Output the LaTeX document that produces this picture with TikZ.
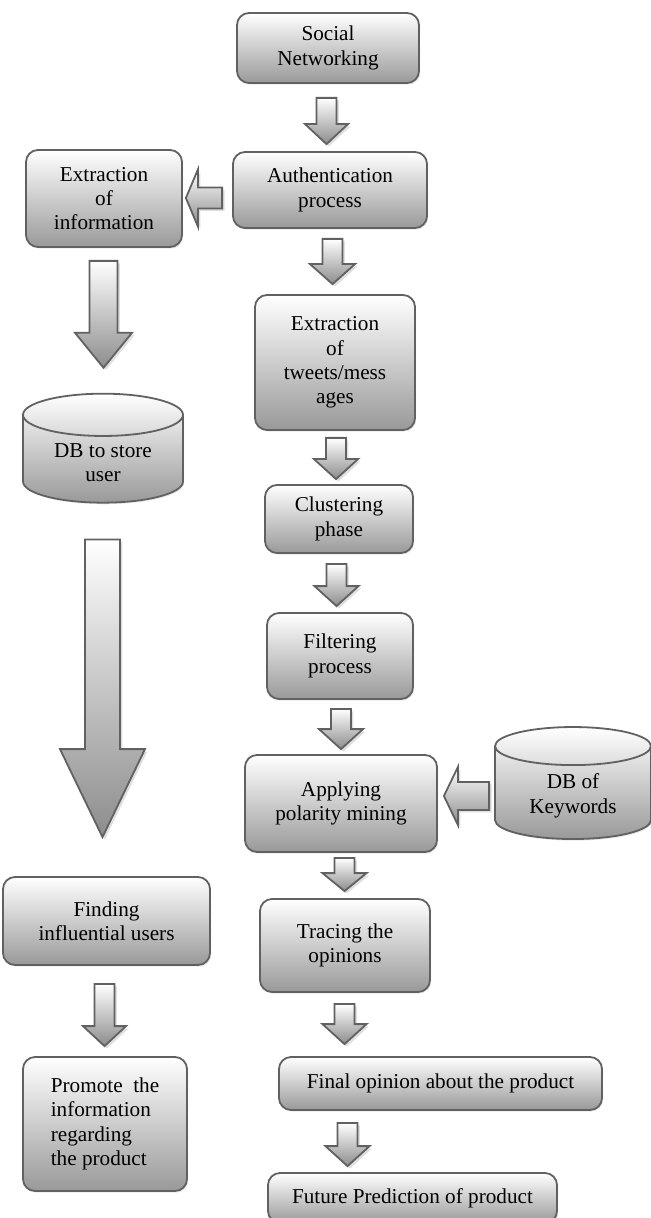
\documentclass[tikz,border=0pt]{standalone}
\usepackage{fontspec}
\setmainfont{Liberation Serif}
\usetikzlibrary{calc,
shapes.geometric,
shadows}

% hollow block arrow: tail, tip, half shaft, half head, head length
\newcommand*{\blkarrow}[5]{%
  \path #1 coordinate (bt) #2 coordinate (bh);
  \coordinate (hb) at ($(bh)!#5!(bt)$);
  \draw [block arrow]
    ($(bt)!#3!90:(bh)$) -- ($(hb)!#3!90:(bh)$) -- ($(hb)!#4!90:(bh)$) -- (bh)
    -- ($(hb)!#4!-90:(bh)$) -- ($(hb)!#3!-90:(bh)$) -- ($(bt)!#3!-90:(bh)$) -- cycle;
}

\begin{document}
\begin{tikzpicture} [x = 0.5pt, y = 0.5pt,
  main node/.style={rectangle, rounded corners = 6pt, draw = black!62,
      line width = 0.9pt, top color = white, bottom color = black!40,
      align=center, inner sep = 2pt,
      font = \fontsize{10.6pt}{12.2pt}\selectfont,
      drop shadow = {shadow xshift = .6pt, shadow yshift = -.8pt, fill = black!18}},
  db node/.style={main node, sharp corners, cylinder,
      shape border rotate = 90, aspect = 0.4},
  block arrow/.style={draw = black!62, line width = 0.9pt,
      top color = white, bottom color = black!45,
      drop shadow = {shadow xshift = 1.2pt, shadow yshift = -1.2pt, fill = black!25}}]

  \useasboundingbox (0,0) rectangle (651,-1218);
  \clip (0,0) rectangle (651,-1218);

  % right column
  \node [main node, minimum width = 91pt, minimum height = 35pt]
    (soc) at (328,-48) {Social\\Networking};
  \node [main node, minimum width = 97pt, minimum height = 38pt]
    (auth) at (330,-190) {Authentication\\process};
  \node [main node, minimum width = 80pt, minimum height = 67.5pt]
    (tweets) at (335,-362.5) {Extraction\\of\\tweets/mess\\ages};
  \node [main node, minimum width = 74pt, minimum height = 34pt]
    (clust) at (339,-519) {Clustering\\phase};
  \node [main node, minimum width = 73pt, minimum height = 43pt]
    (filt) at (340,-656) {Filtering\\process};
  \node [main node, minimum width = 96pt, minimum height = 48.5pt]
    (polar) at (341,-803.5) {Applying\\polarity mining};
  \node [db node, minimum width = 78pt, minimum height = 56pt]
    (kwdb) at (573,-796) {DB of\\Keywords};
  \node [main node, minimum width = 85pt, minimum height = 46.5pt]
    (trace) at (345,-945.5) {Tracing the\\opinions};
  \node [main node, minimum width = 161.5pt, minimum height = 26.5pt]
    (final) at (440.5,-1083.5) {Final opinion about the product};
  \node [main node, minimum width = 144.5pt, minimum height = 25pt]
    (future) at (412.5,-1198) {Future Prediction of product};

  % left column
  \node [main node, minimum width = 78pt, minimum height = 48.5pt]
    (extinf) at (104,-198.5) {Extraction\\of\\information};
  \node [db node, minimum width = 80pt, minimum height = 54.5pt]
    (userdb) at (103,-462.5) {DB to store\\user};
  \node [main node, minimum width = 103.5pt, minimum height = 44pt]
    (infl) at (106.5,-921) {Finding\\influential users};
  \node [main node, minimum width = 82pt, minimum height = 67pt]
    (promo) at (105,-1124) {\begin{tabular}{@{}l@{}}Promote\ \ the\\information\\regarding\\the product\end{tabular}};

  % arrows
  \blkarrow{($(soc.south) + (-1.5,-14)$)}{($(auth.north) + (-3.5,7)$)}{5pt}{10.75pt}{10pt}
  \blkarrow{($(auth.south) + (2.5,-10)$)}{($(tweets.north) + (-2.5,10)$)}{5pt}{11.25pt}{10pt}
  \blkarrow{($(tweets.south) + (1,-7)$)}{($(clust.north) + (-3,5)$)}{5pt}{11pt}{10pt}
  \blkarrow{($(clust.south) + (-2.5,-10)$)}{($(filt.north) + (-3.5,6)$)}{5pt}{11pt}{10pt}
  \blkarrow{($(filt.south) + (1,-9)$)}{($(polar.north) + (0,5)$)}{5pt}{11pt}{10pt}
  \blkarrow{($(polar.south) + (3.5,-5)$)}{($(trace.north) + (-0.5,7)$)}{5pt}{11pt}{9pt}
  \blkarrow{($(trace.south) + (-0.5,-11)$)}{($(final.north) + (-96,12)$)}{5pt}{11pt}{10pt}
  \blkarrow{($(final.south) + (-93,-12)$)}{($(future.north) + (-65,6)$)}{5pt}{11pt}{10pt}

  \blkarrow{($(auth.west) + (-10,-8)$)}{($(extinf.east) + (3,0.5)$)}{5.25pt}{14.25pt}{6pt}
  \blkarrow{($(kwdb.west) + (-5,0)$)}{($(polar.east) + (6,7.5)$)}{7pt}{14.5pt}{7pt}

  \blkarrow{($(extinf.south) + (-0.5,-13)$)}{($(userdb.north) + (0.5,25)$)}{7pt}{14.25pt}{17.5pt}
  \blkarrow{($(userdb.south) + (-0.5,-36)$)}{($(infl.north) + (-4,39)$)}{8.75pt}{21.25pt}{44pt}
  \blkarrow{($(infl.south) + (-2,-18)$)}{($(promo.north) + (-0.5,10)$)}{5pt}{10.75pt}{10pt}

\end{tikzpicture}
\end{document}
